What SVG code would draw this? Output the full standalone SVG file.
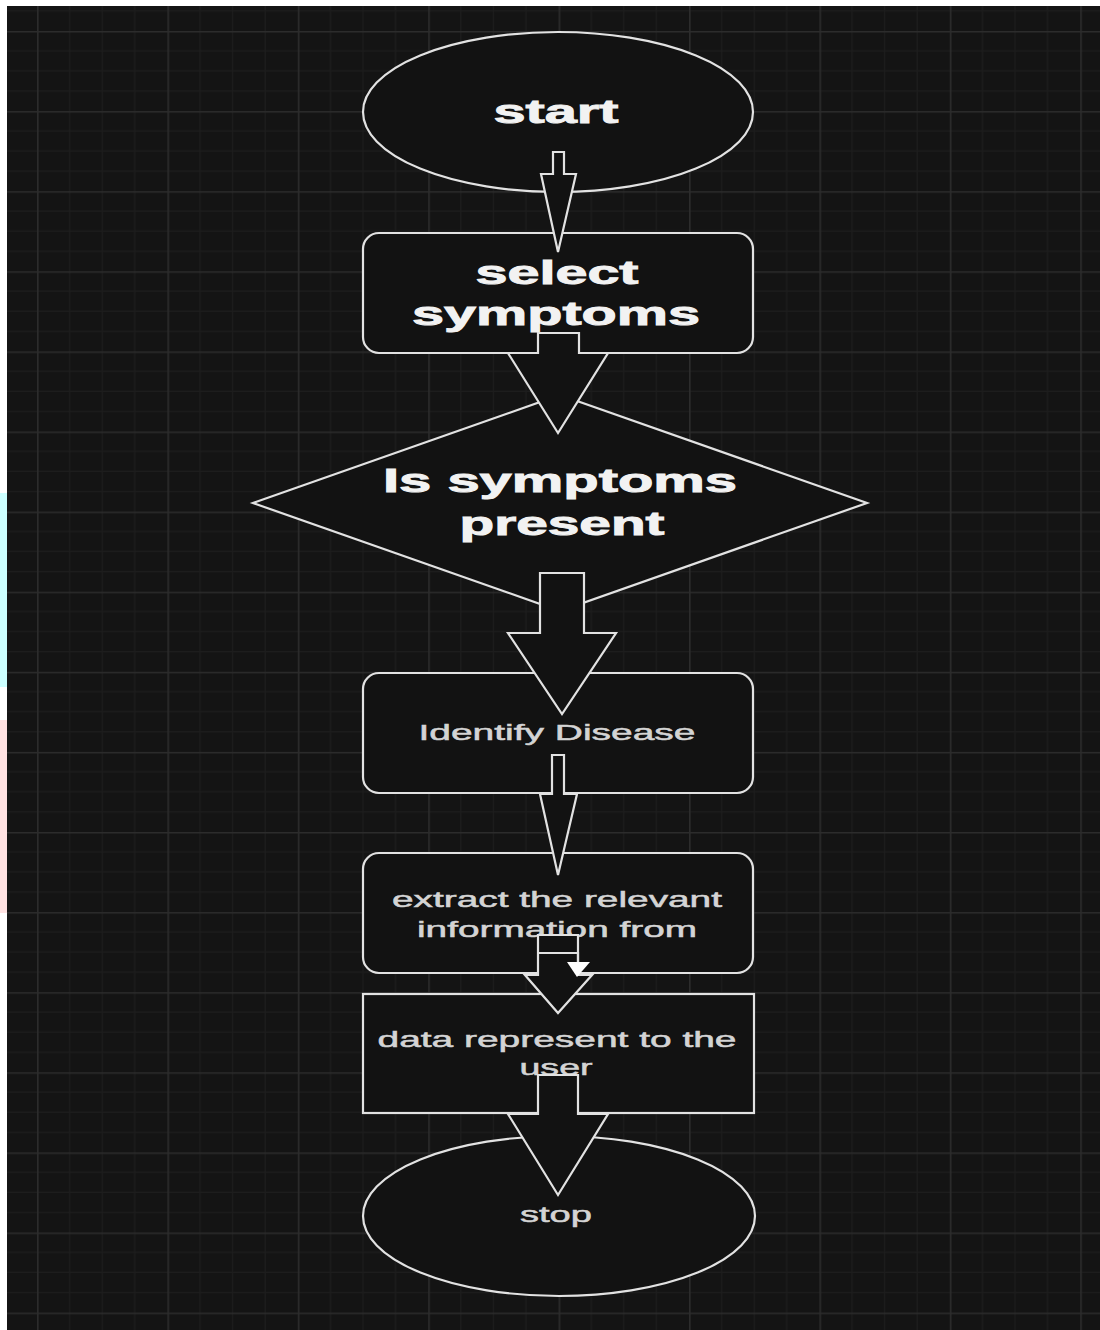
<svg xmlns="http://www.w3.org/2000/svg" width="1100" height="1330" viewBox="0 0 1100 1330">
  <defs>
    <pattern id="grid" patternUnits="userSpaceOnUse" x="37" y="31" width="130.4" height="80.1">
      <rect width="130.4" height="80.1" fill="#141414"/>
      <path d="M32.6,0V80.1M65.2,0V80.1M97.8,0V80.1M0,20H130.4M0,40H130.4M0,60H130.4" stroke="#1d1d1d" stroke-width="1.2" fill="none"/>
      <path d="M0.8,0V80.1M0,0.8H130.4" stroke="#2c2c2c" stroke-width="1.6" fill="none"/>
    </pattern>
    <style>
      .shape { fill: #121212; stroke: #e2e2e2; stroke-width: 2.2; }
      .arrow { fill: #121212; stroke: #e2e2e2; stroke-width: 2.2; stroke-linejoin: miter; }
      .big { font-family: "Liberation Sans", Arial, sans-serif; font-weight: bold; font-size: 34px; fill: #f2f2f2; stroke: #f2f2f2; stroke-width: 0.9; text-anchor: middle; }
      .small { font-family: "Liberation Sans", Arial, sans-serif; font-size: 22px; fill: #d4d4d4; stroke: #d4d4d4; stroke-width: 0.5; text-anchor: middle; }
    </style>
  </defs>

  <rect x="0" y="0" width="1100" height="1330" fill="#ffffff"/>
  <rect x="0" y="493" width="7" height="194" fill="#ccffff"/>
  <rect x="0" y="720" width="7" height="193" fill="#ffe2e2"/>
  <rect x="7" y="6" width="1093" height="1324" fill="url(#grid)"/>

  <g id="node-start">
    <ellipse class="shape" cx="558" cy="112" rx="195" ry="80"/>
    <text class="big" x="556" y="123" textLength="125" lengthAdjust="spacingAndGlyphs">start</text>
  </g>

  <g id="node-select">
    <rect class="shape" x="363" y="233" width="390" height="120" rx="16"/>
    <text class="big" x="557" y="284" textLength="163" lengthAdjust="spacingAndGlyphs">select</text>
    <text class="big" x="556" y="325" textLength="288" lengthAdjust="spacingAndGlyphs">symptoms</text>
  </g>

  <g id="node-decision">
    <polygon class="shape" points="560,395 867,503 560,611 253,503"/>
    <text class="big" x="560" y="492" textLength="354" lengthAdjust="spacingAndGlyphs">Is symptoms</text>
    <text class="big" x="562" y="535" textLength="205" lengthAdjust="spacingAndGlyphs">present</text>
  </g>

  <g id="node-identify">
    <rect class="shape" x="363" y="673" width="390" height="120" rx="16"/>
    <text class="small" x="557" y="740" textLength="277" lengthAdjust="spacingAndGlyphs">Identify Disease</text>
  </g>

  <g id="node-extract">
    <rect class="shape" x="363" y="853" width="390" height="120" rx="16"/>
    <text class="small" x="557" y="907" textLength="330" lengthAdjust="spacingAndGlyphs">extract the relevant</text>
    <text class="small" x="557" y="937" textLength="280" lengthAdjust="spacingAndGlyphs">information from</text>
  </g>

  <g id="node-data">
    <rect class="shape" x="363" y="994" width="391" height="119"/>
    <text class="small" x="557" y="1047" textLength="359" lengthAdjust="spacingAndGlyphs">data represent to the</text>
    <text class="small" x="556" y="1075" textLength="73" lengthAdjust="spacingAndGlyphs">user</text>
  </g>

  <g id="node-stop">
    <ellipse class="shape" cx="559" cy="1216" rx="196" ry="80"/>
    <text class="small" x="556" y="1222" textLength="72" lengthAdjust="spacingAndGlyphs">stop</text>
  </g>

  <g id="connectors">
    <polygon class="arrow" points="553,152 564,152 564,174 576,174 558,252 541,174 553,174"/>
    <polygon class="arrow" points="538,333 579,333 579,353 608,353 558,433 508,353 538,353"/>
    <polygon class="arrow" points="540,573 584,573 584,633 616,633 562,714 508,633 540,633"/>
    <polygon class="arrow" points="552,755 564,755 564,794 577,794 558,875 540,794 552,794"/>
    <polygon class="arrow" points="538,935 578,935 578,975 592,975 558,1013 525,975 538,975"/>
    <path d="M538,953H578V963" fill="none" stroke="#e2e2e2" stroke-width="2.2"/>
    <polygon points="567,962 590,962 577,977" fill="#ffffff"/>
    <polygon class="arrow" points="538,1075 578,1075 578,1114 608,1114 558,1195 508,1114 538,1114"/>
  </g>
</svg>
